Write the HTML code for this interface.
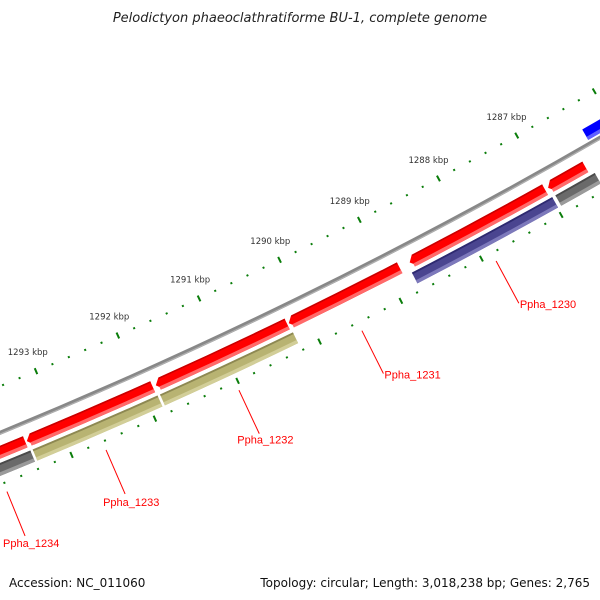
<!DOCTYPE html>
<html><head><meta charset="utf-8"><style>
html,body{margin:0;padding:0;background:#fff;}
svg{display:block;font-family:"DejaVu Sans","Liberation Sans",sans-serif;}
</style></head><body>
<svg id="chart" width="600" height="600" viewBox="0 0 600 600" xmlns="http://www.w3.org/2000/svg">
<rect width="600" height="600" fill="#fff"/>
<text x="300" y="22" text-anchor="middle" font-size="13" font-style="italic" fill="#222">Pelodictyon phaeoclathratiforme BU-1, complete genome</text>
<g id="plot"></g>
<text x="9" y="587" font-size="12" fill="#111">Accession: NC_011060</text>
<text x="590" y="587" text-anchor="end" font-size="12" fill="#111">Topology: circular; Length: 3,018,238 bp; Genes: 2,765</text>
</svg>
<script>
// data (kbp)
const rulerStart = 1283;
const rulerEnd = 1297;
const tickLabels = [1287, 1288, 1289, 1290, 1291, 1292, 1293];
const fwdStarts = [1293.415, 1291.879, 1290.237, 1288.845, 1287.019, 1286.507];
const fwdEnds   = [1294.700, 1293.396, 1291.841, 1290.217, 1288.720, 1286.980];
const trk2Starts = [1293.400, 1291.870, 1290.220, 1286.990, 1286.450];
const trk2Ends   = [1294.700, 1293.372, 1291.840, 1288.750, 1286.950];
const trk2Kinds  = ['gray', 'olive', 'olive', 'purple', 'gray'];
const revStarts = [1285.300];
const revEnds   = [1286.330];
const labelNames = ['Ppha_1230', 'Ppha_1231', 'Ppha_1232', 'Ppha_1233', 'Ppha_1234'];
const labelPos   = [1287.87, 1289.53, 1291.03, 1292.63, 1293.81];

const NS = 'http://www.w3.org/2000/svg';
const CX = -1895, CY = -4178;
function ang(k){ return (60.79 + (k - 1287) * 1.035) * Math.PI / 180; }
function pt(k, r){ const a = ang(k); return [CX + r * Math.cos(a), CY + r * Math.sin(a)]; }
function f(p){ return p[0].toFixed(2) + ' ' + p[1].toFixed(2); }
const plot = document.getElementById('plot');
function mk(tag, attrs){ const e = document.createElementNS(NS, tag); for (const k in attrs) e.setAttribute(k, attrs[k]); plot.appendChild(e); return e; }
function band(s, e, r1, r2, tip){
  // s < e in kbp; tip: arrow head at e end
  const head = tip ? 0.06 : 0;
  const rm = (r1 + r2) / 2;
  let d = 'M' + f(pt(s, r1)) + ' A ' + r1 + ' ' + r1 + ' 0 0 1 ' + f(pt(e - head, r1));
  if (tip) d += ' L' + f(pt(e, rm));
  d += ' L' + f(pt(e - head, r2)) + ' A ' + r2 + ' ' + r2 + ' 0 0 0 ' + f(pt(s, r2)) + ' Z';
  return d;
}
function arc(s, e, r){ return 'M' + f(pt(s, r)) + ' A ' + r + ' ' + r + ' 0 0 1 ' + f(pt(e, r)); }

// backbone
let bb = mk('path', {d: arc(rulerStart, rulerEnd, 4985), stroke: '#888', 'stroke-width': 4, fill: 'none'});


let bb2 = mk('path', {d: arc(rulerStart, rulerEnd, 4986.3), stroke: '#b0b0b0', 'stroke-width': 1.2, fill: 'none'});



// rulers
for (let i = 0; i <= Math.round((rulerEnd - rulerStart) * 5); i++){
  const k = rulerStart + i * 0.2;
  const major = Math.abs(k - Math.round(k)) < 1e-6;
  [4942, 5033].forEach((rc, j) => {
    const h = major ? 3.2 : 1;
    const a = pt(k, rc - h), b = pt(k, rc + h);
    const t = mk('line', {x1: a[0], y1: a[1], x2: b[0], y2: b[1], stroke: '#0a7d0a', 'stroke-width': 2});
    
    
  });
}
tickLabels.forEach(k => {
  const p = pt(k, 4921);
  const t = mk('text', {x: p[0], y: p[1] + 3, 'text-anchor': 'middle', 'font-size': 8.5, fill: '#333'});
  t.textContent = k + ' kbp';
  
  
});

// forward (red) track
fwdStarts.forEach((s, i) => {
  const e = fwdEnds[i];
  const g = mk('path', {d: band(s, e, 4997, 5009, true), fill: '#ff0000'});
  
  
  const hl = mk('path', {d: band(s, e - 0.03, 5005.5, 5009, false), fill: '#ff6a6a'});
  
  
  const dk = mk('path', {d: band(s, e - 0.06, 4997, 4998.5, false), fill: '#c80000'});
  
  
});

// second track
const colors = {gray: ['#6a6a6a', '#4a4a4a', '#9a9a9a'], olive: ['#b8b372', '#8d8852', '#d2ce98'], purple: ['#4a4590', '#2e2a70', '#7d79bb']};
trk2Starts.forEach((s, i) => {
  const e = trk2Ends[i], c = colors[trk2Kinds[i]];
  const g = mk('path', {d: band(s, e, 5013, 5025, false), fill: c[0]});
  
  
  const dk = mk('path', {d: band(s, e, 5013, 5014.8, false), fill: c[1]});
  
  
  const hl = mk('path', {d: band(s, e, 5021.5, 5025, false), fill: c[2]});
  
  
});

// reverse (blue) track
revStarts.forEach((s, i) => {
  const e = revEnds[i];
  const g = mk('path', {d: band(s, e, 4969, 4981, false), fill: '#0000ff'});
  
  
  const hl = mk('path', {d: band(s, e, 4977.5, 4981, false), fill: '#6060ff'});
  
  
});

// labels
const labOff = [[1, 5, 'start'], [1, 5, 'start'], [-22, 10, 'start'], [-22, 12, 'start'], [-22, 11, 'start']];
labelNames.forEach((n, i) => {
  const a = pt(labelPos[i], 5042), b = pt(labelPos[i], 5090);
  const l = mk('line', {x1: a[0], y1: a[1], x2: b[0], y2: b[1], stroke: '#ff0000', 'stroke-width': 1});
  
  
  const t = mk('text', {x: b[0] + labOff[i][0], y: b[1] + labOff[i][1], 'text-anchor': labOff[i][2], 'font-size': 11, fill: '#ff0000', 'font-family': 'Liberation Sans, sans-serif'});
  t.textContent = n;
  
  
});
</script>
</body></html>
